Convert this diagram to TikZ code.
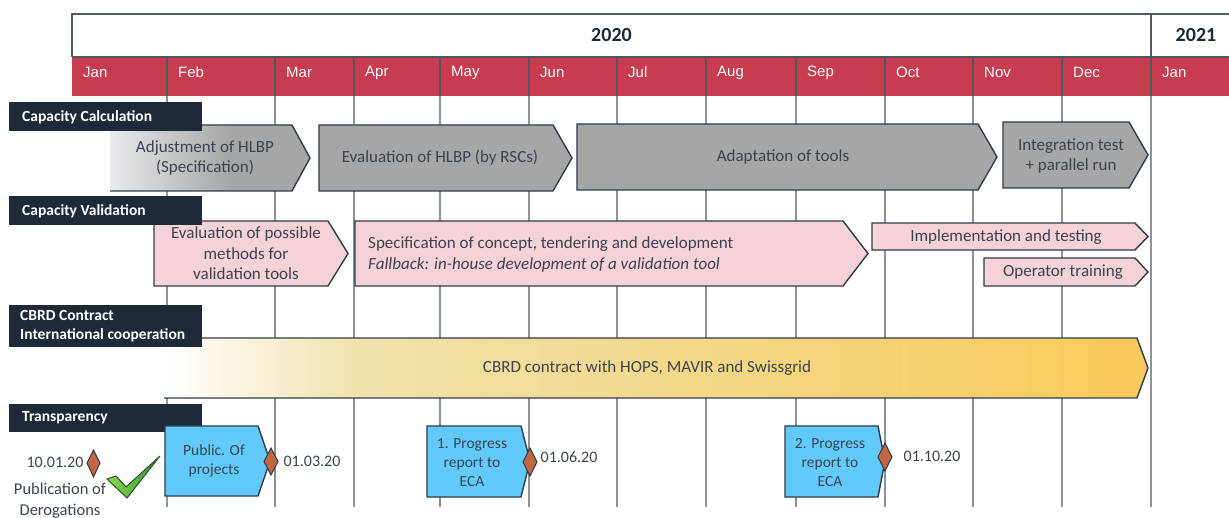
\documentclass[tikz,border=0pt]{standalone}
\usepackage{fontspec}
\setmainfont{Carlito}
\newfontfamily\arialf{Liberation Sans}
\definecolor{redc}{RGB}{200,60,80}
\definecolor{hdrline}{RGB}{80,90,102}
\definecolor{gridc}{RGB}{138,148,158}
\definecolor{catc}{RGB}{30,42,56}
\definecolor{edgec}{RGB}{46,60,74}
\definecolor{txtc}{RGB}{58,68,80}
\definecolor{boxgray}{RGB}{166,166,166}
\definecolor{fadeL}{RGB}{232,234,237}
\definecolor{pinkc}{RGB}{245,209,216}
\definecolor{bluec}{RGB}{98,202,250}
\definecolor{diac}{RGB}{192,103,66}
\definecolor{creamc}{RGB}{240,226,172}
\definecolor{goldc}{RGB}{249,203,92}
\definecolor{checkL}{RGB}{140,215,80}
\definecolor{checkD}{RGB}{50,150,50}
\definecolor{checkE}{RGB}{40,80,40}
\pgfdeclarehorizontalshading{grayfade}{100bp}{color(0bp)=(fadeL); color(25bp)=(fadeL); color(55bp)=(boxgray); color(100bp)=(boxgray)}
\pgfdeclarehorizontalshading{goldfade}{100bp}{color(0bp)=(white); color(25bp)=(white); color(35bp)=(creamc); color(73bp)=(goldc); color(100bp)=(goldc)}
\begin{document}
\begin{tikzpicture}[x=1pt,y=-1pt,
  gridl/.style={draw=gridc, line width=1.1pt},
  catbox/.style={fill=catc},
  cattext/.style={text=white, font=\bfseries\fontsize{15.5}{18.5}\selectfont, anchor=west, inner sep=0pt, align=left},
  boxline/.style={draw=edgec, line width=1.4pt, line join=miter},
  btext/.style={text=txtc, font=\fontsize{17}{20.5}\selectfont, align=center, inner sep=0pt},
  ttext/.style={text=txtc, font=\fontsize{15.5}{19}\selectfont, align=center, inner sep=0pt},
  mon/.style={text=white, font=\arialf\fontsize{15}{18}\selectfont, anchor=west, inner sep=0pt},
  yeartext/.style={text=catc, font=\bfseries\fontsize{20}{24}\selectfont, inner sep=0pt},
  dia/.style={fill=diac, draw=edgec, line width=1pt, line join=miter}]
\clip (0,0) rectangle (1229,518);
% ---------- header ----------
\fill[redc] (72,57) rectangle (1229,96);
\draw[hdrline, line width=1.2pt] (72,57) -- (72,14) -- (1240,14);
\draw[hdrline, line width=1.2pt] (72,57) -- (1240,57);
\draw[hdrline, line width=1.1pt] (1151,14) -- (1151,57);
\foreach \x in {167,275,354,440,529,617,706,796,885,973,1062,1151}{
  \draw[hdrline, line width=1.1pt] (\x,57) -- (\x,96);
  \draw[gridl] (\x,96) -- (\x,507);
}
\foreach \x/\m/\i in {72/Jan/1,167/Feb/2,275/Mar/3,354/Apr/4,440/May/5,529/Jun/6,617/Jul/7,706/Aug/8,796/Sep/9,885/Oct/10,973/Nov/11,1062/Dec/12,1151/Jan/13}{
  \node[mon] (mon\i) at (\x+11,72.5) {\m};
}
\node[yeartext] (y2020) at (611.5,35) {2020};
\node[yeartext] (y2021) at (1196,35) {2021};
% ---------- Capacity Calculation ----------
\shade[shading=grayfade] (110,125) -- (292,125) -- (310,158) -- (292,191) -- (110,191) -- cycle;
\draw[boxline] (110,125) -- (292,125) -- (310,158) -- (292,191) -- (110,191);
\node[btext] (cc1) at (205,158) {Adjustment of HLBP\\(Specification)};
\draw[boxline, fill=boxgray] (319,125) -- (553,125) -- (572,158) -- (553,191) -- (319,191) -- cycle;
\node[btext] (cc2) at (440,158) {Evaluation of HLBP (by RSCs)};
\draw[boxline, fill=boxgray] (577,124) -- (978,124) -- (997,157) -- (978,190) -- (577,190) -- cycle;
\node[btext] (cc3) at (783,157) {Adaptation of tools};
\draw[boxline, fill=boxgray] (1003,122) -- (1129,122) -- (1148,155) -- (1129,188) -- (1003,188) -- cycle;
\node[btext] (cc4) at (1071,156) {Integration test\\+ parallel run};
\fill[catc] (9,102) rectangle (202,131);
\node[cattext] (lcc) at (22,117) {Capacity Calculation};
% ---------- Capacity Validation ----------
\draw[boxline, fill=pinkc] (154,221) -- (328,221) -- (348,253.5) -- (328,286) -- (154,286) -- cycle;
\node[btext] (cv1) at (246,253.5) {Evaluation of possible\\methods for\\validation tools};
\draw[boxline, fill=pinkc] (355,221) -- (843,221) -- (868,253.5) -- (843,286) -- (355,286) -- cycle;
\node[btext, align=left, anchor=west] (cv2) at (368,254.5) {Specification of concept, tendering and development\\\textit{Fallback: in-house development of a validation tool}};
\draw[boxline, fill=pinkc] (872,223) -- (1135,223) -- (1148,236.5) -- (1135,250) -- (872,250) -- cycle;
\node[btext] (cv3) at (1006,237) {Implementation and testing};
\draw[boxline, fill=pinkc] (984,258) -- (1135,258) -- (1148,272) -- (1135,286) -- (984,286) -- cycle;
\node[btext] (cv4) at (1063,272) {Operator training};
\fill[catc] (9,196) rectangle (202,225);
\node[cattext] (lcv) at (22,211) {Capacity Validation};
% ---------- CBRD ----------
\shade[shading=goldfade] (164,338) -- (1137,338) -- (1148,368) -- (1137,398) -- (164,398) -- cycle;
\draw[boxline] (164,338) -- (1137,338) -- (1148,368) -- (1137,398) -- (164,398);
\node[btext] (cb1) at (647,368) {CBRD contract with HOPS, MAVIR and Swissgrid};
\fill[catc] (9,305) rectangle (202,347);
\node[cattext] (lcb) at (20,326) {CBRD Contract\\International cooperation};
% ---------- Transparency ----------
\fill[catc] (9,404) rectangle (202,432);
\node[cattext] (ltr) at (22,418) {Transparency};
\draw[boxline, fill=bluec] (165,426) -- (258,426) -- (270,461) -- (258,496) -- (165,496) -- cycle;
\node[ttext] (tr1) at (214,461) {Public. Of\\projects};
\draw[boxline, fill=bluec] (427,426) -- (521,426) -- (530,461) -- (521,497) -- (427,497) -- cycle;
\node[ttext] (tr2) at (472,463) {1. Progress\\report to\\ECA};
\draw[boxline, fill=bluec] (785,426) -- (878,426) -- (885,461) -- (878,497) -- (785,497) -- cycle;
\node[ttext] (tr3) at (830,463) {2. Progress\\report to\\ECA};
% diamonds
\draw[dia] (93.5,450) -- (100,463) -- (93.5,477) -- (87,463) -- cycle;
\draw[dia] (271,448) -- (278,461.5) -- (271,475) -- (264,461.5) -- cycle;
\draw[dia] (530,448) -- (537,462) -- (530,476) -- (523,462) -- cycle;
\draw[dia] (885,443) -- (892,457) -- (885,471) -- (878,457) -- cycle;
\node[ttext, font=\fontsize{16}{19}\selectfont] (d0) at (55,462) {10.01.20};
\node[ttext, font=\fontsize{16}{19}\selectfont] (d1) at (312,461) {01.03.20};
\node[ttext, font=\fontsize{16}{19}\selectfont] (d2) at (569,457) {01.06.20};
\node[ttext, font=\fontsize{16}{19}\selectfont] (d3) at (932,456) {01.10.20};
\node[ttext, font=\fontsize{16.5}{21}\selectfont] (pub) at (60,501) {Publication of\\Derogations};
% check mark
\shade[left color=checkL, right color=checkD, draw=checkE, line width=1pt]
  (107,479) -- (116,476) -- (126,487) -- (160,456) -- (127,498) -- cycle;
\end{tikzpicture}
\end{document}
